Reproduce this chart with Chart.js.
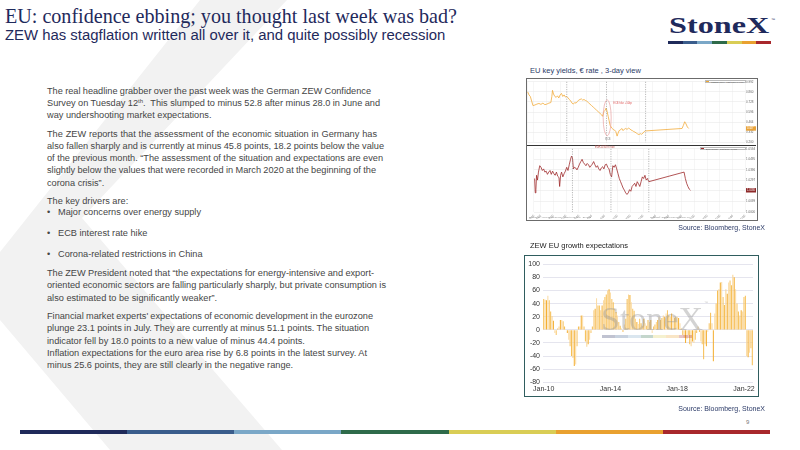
<!DOCTYPE html>
<html>
<head>
<meta charset="utf-8">
<script src="https://cdn.jsdelivr.net/npm/chart.js@4.4.1/dist/chart.umd.min.js"></script>
<style>
  html,body{margin:0;padding:0;background:#fff;}
  #page{position:relative;width:800px;height:450px;overflow:hidden;background:#fff;font-family:"Liberation Sans",Arial,sans-serif;}
  .abs{position:absolute;white-space:nowrap;}
  .ln{position:absolute;left:47px;white-space:nowrap;font-size:9.2px;line-height:12px;color:#454545;}
  .ln sup{font-size:6px;line-height:0;vertical-align:3px;}
  .bul{position:absolute;left:47px;font-size:9.2px;line-height:12px;color:#454545;}
</style>
</head>
<body>
<div id="page">
  <svg class="abs" style="left:0;top:0" width="800" height="450">
    <polygon points="200,0 287,0 82,218 282,450 110,450 0,320 0,252" fill="#f2f2f2"/>
  </svg>

  <!-- header -->
  <div class="abs" style="left:5px;top:6px;font-family:'Liberation Serif',serif;font-size:20.1px;line-height:20px;color:#1f2a5c;">EU: confidence ebbing; you thought last week was bad?</div>
  <div class="abs" style="left:5px;top:27px;font-size:14.9px;line-height:16px;color:#1f2a5c;">ZEW has stagflation written all over it, and quite possibly recession</div>

  <!-- logo -->
  <div class="abs" style="left:669px;top:14px;font-family:'Liberation Serif',serif;font-weight:bold;font-size:23px;line-height:24px;color:#1f2a5c;transform:scaleX(1.4);transform-origin:0 0;">StoneX</div>
  <div class="abs" style="left:771px;top:17px;font-size:4px;color:#1f2a5c;">™</div>
  <div id="logobar" class="abs" style="left:668px;top:41px;height:2.6px;width:103px;display:flex;"></div>

  <!-- body text -->
  <div class="ln" style="top:85px" data-r="371">The real headline grabber over the past week was the German ZEW Confidence</div>
  <div class="ln" style="top:97px" data-r="380">Survey on Tuesday 12<sup>th</sup>.&nbsp; This slumped to minus 52.8 after minus 28.0 in June and</div>
  <div class="ln" style="top:109px">way undershooting market expectations.</div>

  <div class="ln" style="top:128px" data-r="377">The ZEW reports that the assessment of the economic situation in Germany has</div>
  <div class="ln" style="top:140px" data-r="384">also fallen sharply and is currently at minus 45.8 points, 18.2 points below the value</div>
  <div class="ln" style="top:152px" data-r="383">of the previous month. “The assessment of the situation and expectations are even</div>
  <div class="ln" style="top:164px" data-r="376">slightly below the values that were recorded in March 2020 at the beginning of the</div>
  <div class="ln" style="top:177px">corona crisis”.</div>

  <div class="ln" style="top:195px">The key drivers are:</div>
  <div class="bul" style="top:206px">•</div><div class="ln" style="top:206px;left:58px">Major concerns over energy supply</div>
  <div class="bul" style="top:227px">•</div><div class="ln" style="top:227px;left:58px">ECB interest rate hike</div>
  <div class="bul" style="top:248px">•</div><div class="ln" style="top:248px;left:58px">Corona-related restrictions in China</div>

  <div class="ln" style="top:267px" data-r="374">The ZEW President noted that “the expectations for energy-intensive and export-</div>
  <div class="ln" style="top:279px" data-r="386">oriented economic sectors are falling particularly sharply, but private consumption is</div>
  <div class="ln" style="top:292px">also estimated to be significantly weaker”.</div>

  <div class="ln" style="top:310px" data-r="373">Financial market experts' expectations of economic development in the eurozone</div>
  <div class="ln" style="top:322px" data-r="369">plunge 23.1 points in July. They are currently at minus 51.1 points. The situation</div>
  <div class="ln" style="top:335px">indicator fell by 18.0 points to a new value of minus 44.4 points.</div>
  <div class="ln" style="top:347px" data-r="367">Inflation expectations for the euro area rise by 6.8 points in the latest survey. At</div>
  <div class="ln" style="top:359px">minus 25.6 points, they are still clearly in the negative range.</div>

  <!-- Bloomberg panel -->
  <div class="abs" style="left:530px;top:66px;font-size:7.5px;line-height:9px;color:#2b3a67;">EU key yields, € rate , 3-day view</div>
  <div class="abs" style="left:526px;top:78px;width:230px;height:141px;border:1px solid #6b6b6b;background:#fff;"></div>
  <canvas id="bbgTop" class="abs" style="left:527px;top:79px;width:229px;height:66px;"></canvas>
  <div class="abs" style="left:527px;top:145px;width:229px;height:1px;background:#333;"></div>
  <canvas id="bbgBot" class="abs" style="left:527px;top:146px;width:229px;height:73px;"></canvas>
  <div class="abs" style="left:705px;top:80px;width:41px;height:3px;border:0.5px solid #bbb;background:#fff;font-size:2.2px;line-height:3px;color:#666;padding-left:5px;box-sizing:border-box;">GDBR2 Index · Last Price 0.4470</div>
  <div class="abs" style="left:706px;top:80.8px;width:3px;height:1.5px;background:#f0a830;"></div>
  <div class="abs" style="left:700px;top:147px;width:46px;height:3px;border:0.5px solid #bbb;background:#fff;font-size:2.2px;line-height:3px;color:#666;padding-left:5px;box-sizing:border-box;">EUR Curncy · Last Price 1.0180</div>
  <div class="abs" style="left:701px;top:147.8px;width:3px;height:1.5px;background:#9e2a2b;"></div>
  <div class="abs" style="left:595px;top:146px;font-size:2.6px;color:#c0504d;">EUR-USD fx rate</div>
  <div class="abs" style="left:529px;top:216px;font-size:2.2px;color:#888;">Bloomberg ® Professional Service · Chart 3-day view · EU rates</div>
  <div class="abs" style="left:650px;top:216px;font-size:2.2px;color:#888;">Copyright© 2022 Bloomberg Finance L.P.</div>
  <div class="abs" style="right:35px;top:224px;font-size:7px;line-height:8px;color:#2b3a67;">Source: Bloomberg, StoneX</div>

  <!-- ZEW chart -->
  <div class="abs" style="left:530px;top:241px;font-size:7.5px;line-height:9px;color:#222;">ZEW EU growth expectations</div>
  <div class="abs" style="left:524px;top:255px;width:233px;height:140px;border:1.5px solid #2f5d5e;background:#fff;"></div>
  <canvas id="zew" class="abs" style="left:526px;top:257px;width:231px;height:138px;"></canvas>
  <div class="abs" style="left:601px;top:302px;font-family:'Liberation Serif',serif;font-size:34px;line-height:34px;color:rgba(150,150,150,0.42);">StoneX</div>
  <div class="abs" style="left:704px;top:301px;font-size:4px;line-height:4px;color:rgba(150,150,150,0.5);">™</div>
  <div id="wmbar" class="abs" style="left:602px;top:335px;height:3px;width:90px;display:flex;opacity:0.28;"></div>
  <div class="abs" style="right:35px;top:405px;font-size:7px;line-height:8px;color:#2b3a67;">Source: Bloomberg, StoneX</div>

  <!-- footer -->
  <div class="abs" style="left:746px;top:419px;font-size:6px;color:#777;">9</div>
  <div id="footbar" class="abs" style="left:20px;top:430px;height:4px;width:750px;display:flex;"></div>
</div>

<script>
// ---------- DATA ----------
const monthNames = ['Jan','Feb','Mar','Apr','May','Jun','Jul','Aug','Sep','Oct','Nov','Dec'];
const firstYear = 10; // 2010
const zewValues = [
  // 2010
  47, 46, 45, 52, 45, 28, 21, 14, -5, -8, 2, 5,
  // 2011
  15, 15, 13, 5, 0, -5, -15, -25, -40, -43, -55, -53,
  // 2012
  -25, 5, 5, 22, 22, 5, -18, -26, -22, -15, -5, 5,
  // 2013
  30, 32, 48, 37, 37, 30, 37, 45, 50, 54, 60, 62,
  // 2014
  57, 47, 42, 32, 27, 22, 12, 6, 2, -3, 8, 17,
  // 2015
  47, 54, 53, 42, 32, 29, 17, 12, 9, 17, 10, 6,
  // 2016
  17, 10, 6, 15, 12, 15, -5, 5, 8, 12, 15, 20,
  // 2017
  15, 18, 22, 20, 25, 30, 22, 20, 25, 20, 18, 20,
  // 2018
  20, 18, 10, 2, -8, -12, -20, -14, -8, -22, -25, -18,
  // 2019
  -20, -15, -5, 5, -3, -18, -22, -45, -22, -25, -3, 10,
  // 2020
  26, 10, -48, 25, 40, 60, 62, 72, 73, 50, 38, 62,
  // 2021
  55, 72, 75, 68, 84, 80, 62, 40, 28, 22, 30, 28,
  // 2022
  50, 52, -40, -42, -35, -28, -54
];
const zewTickLabels = ['Jan-10','Jan-14','Jan-18','Jan-22'];
const zewYTicks = {min: -80, max: 100, step: 20};

// Bloomberg 3-day view: [time index, level]
const yieldSeries = [[22,165],[26,155],[30,150],[34,135],[38,120],[44,122],[50,125],[56,127],[62,124],[68,128],[74,123],[80,125],[86,128],[92,130],[95,150],[97,170],[100,158],[104,150],[108,147],[112,152],[116,145],[120,155],[124,160],[128,150],[132,155],[136,148],[140,150],[144,145],[148,140],[152,135],[156,128],[160,125],[164,130],[168,128],[172,133],[176,138],[180,140],[184,142],[188,138],[192,140],[196,137],[200,135],[205,130],[210,125],[215,120],[220,115],[225,110],[230,105],[235,100],[240,95],[245,90],[248,85],[252,100],[256,105],[259,112],[262,100],[265,85],[268,70],[271,55],[274,50],[277,45],[280,42],[284,40],[288,35],[292,20],[295,30],[298,38],[302,40],[306,45],[310,38],[314,43],[318,45],[322,42],[326,46],[330,44],[334,40],[338,38],[342,35],[346,33],[350,30],[354,27],[358,25],[362,28],[366,26],[370,30],[374,35],[378,37],[488,45],[492,55],[496,67],[500,60],[504,50],[508,45]];
const fxSeries = [[22,105],[24,60],[26,70],[28,115],[31,100],[34,125],[38,145],[42,140],[46,130],[50,135],[54,125],[58,128],[62,118],[66,125],[70,130],[74,118],[78,128],[82,120],[86,115],[90,125],[94,112],[98,108],[100,80],[103,115],[106,125],[110,110],[114,120],[118,128],[122,140],[126,130],[130,148],[134,165],[137,175],[140,170],[143,135],[146,140],[150,138],[154,132],[158,140],[162,150],[166,158],[170,165],[174,155],[178,150],[182,145],[186,152],[190,148],[194,140],[198,145],[202,150],[206,158],[210,148],[214,140],[218,145],[222,135],[226,130],[230,138],[234,142],[238,135],[242,148],[246,150],[250,140],[254,135],[258,118],[262,110],[266,145],[270,140],[274,148],[278,135],[282,120],[286,105],[290,95],[294,85],[298,75],[302,68],[306,60],[310,55],[314,60],[318,70],[322,65],[326,80],[330,85],[334,90],[338,80],[342,95],[346,88],[350,80],[354,95],[358,110],[362,105],[366,115],[370,100],[374,105],[378,95],[488,125],[492,105],[496,90],[500,80],[504,72],[508,68]];
const sessionMarks = [140, 260, 378];
const bbgTimeLabels = ['12:00','00:00'];
const ecbMark = {t: 262, v: 80, label: 'ECB hike +50bp'};

// ---------- STYLE ----------
const stonexColors = ['#1f2a5a','#3a5d8c','#7aa7c7','#2e6b4a','#d9cd55','#e9a130','#a8282c'];
function fillBar(id){
  const el=document.getElementById(id);
  stonexColors.forEach(c=>{const d=document.createElement('div');d.style.flex='1';d.style.background=c;el.appendChild(d);});
}
fillBar('logobar'); fillBar('wmbar'); fillBar('footbar');

// fit text lines to their original right edges
document.querySelectorAll('.ln[data-r]').forEach(el=>{
  const target = parseFloat(el.dataset.r) - el.offsetLeft;
  const w = el.getBoundingClientRect().width;
  const spaces = (el.textContent.match(/[ \u00a0]/g)||[]).length;
  if (spaces>0){
    let ws = (target - w)/spaces;
    ws = Math.max(-1.2, Math.min(3, ws));
    el.style.wordSpacing = ws + 'px';
  }
});

Chart.defaults.font.family = '"Liberation Sans", Arial, sans-serif';
Chart.defaults.animation = false;

// ---------- ZEW bar chart ----------
const categories = zewValues.map((_, i) => monthNames[i % 12] + '-' + String(firstYear + Math.floor(i / 12)).padStart(2, '0'));
const barShades = ['#f6bf55','#f9d596','#f4b035','#fbdca6','#f7c669'];

new Chart(document.getElementById('zew'), {
  type: 'bar',
  data: {
    labels: categories,
    datasets: [{
      data: zewValues,
      backgroundColor: ctx => barShades[ctx.dataIndex % barShades.length],
      borderWidth: 0,
      barPercentage: 0.75,
      categoryPercentage: 1.0
    }]
  },
  options: {
    responsive: false,
    maintainAspectRatio: false,
    layout: {padding: {left: 0, right: 4, top: 6, bottom: 0}},
    plugins: {legend: {display: false}, tooltip: {enabled: false}},
    scales: {
      x: {
        grid: {display: false, drawTicks: false},
        border: {display: false},
        ticks: {
          autoSkip: false, maxRotation: 0, minRotation: 0, padding: 3,
          font: {size: 7}, color: '#333',
          callback: (v, i) => zewTickLabels.includes(categories[i]) ? categories[i] : ''
        },
        afterFit: s => { s.height = 12.7; }
      },
      y: {
        min: zewYTicks.min, max: zewYTicks.max,
        ticks: {stepSize: zewYTicks.step, font: {size: 7}, color: '#333', padding: 3},
        grid: {color: '#dedeea', lineWidth: 0.8, drawTicks: false},
        border: {display: false},
        afterFit: s => { s.width = 17; }
      }
    }
  }
});

// ---------- Bloomberg-style line panels ----------
const bbgDecor = {
  id: 'bbgDecor',
  afterDatasetsDraw(chart, args, opts) {
    const {ctx, chartArea, scales} = chart;
    ctx.save();
    ctx.setLineDash([1.2, 1.2]);
    ctx.strokeStyle = '#8c8c8c';
    ctx.lineWidth = 0.6;
    sessionMarks.forEach(t => {
      const x = scales.x.getPixelForValue(t);
      ctx.beginPath(); ctx.moveTo(x, chartArea.top); ctx.lineTo(x, chartArea.bottom); ctx.stroke();
    });
    ctx.setLineDash([]);
    if (opts.ellipse) {
      const e = opts.ellipse;
      const x = scales.x.getPixelForValue(e.t), y = scales.y.getPixelForValue(e.v);
      ctx.strokeStyle = '#e8a0a0'; ctx.lineWidth = 0.7;
      ctx.beginPath(); ctx.ellipse(x, y, 4, 18, 0, 0, Math.PI * 2); ctx.stroke();
      ctx.fillStyle = '#e06060'; ctx.font = '2.6px "Liberation Sans"';
      ctx.fillText(e.label, x + 6, y - 14);
      ctx.fillStyle = '#888';
      ctx.fillText('ECB', x - 2, y + 22);
    }
    const d = chart.data.datasets[0].data;
    const last = d[d.length - 1];
    const y = scales.y.getPixelForValue(last.y);
    ctx.fillStyle = opts.tag;
    ctx.fillRect(chartArea.right + 1, y - 2.2, 10, 4.4);
    ctx.fillStyle = '#fff'; ctx.font = '2.6px "Liberation Sans"';
    ctx.fillText(opts.tagText, chartArea.right + 2, y + 1);
    ctx.restore();
  }
};

function bbgChart(id, series, color, tag, tagText, showX, ellipse, yTickText) {
  return new Chart(document.getElementById(id), {
    type: 'scatter',
    data: {datasets: [{
      data: series.map(p => ({x: p[0], y: p[1]})),
      showLine: true, borderColor: color, borderWidth: 0.8, pointRadius: 0, tension: 0
    }]},
    options: {
      responsive: false, maintainAspectRatio: false,
      layout: {padding: {left: 0, right: 0, top: 1, bottom: 0}},
      plugins: {legend: {display: false}, tooltip: {enabled: false}, bbgDecor: {tag, tagText, ellipse}},
      scales: {
        x: {
          type: 'linear', min: 20, max: 678,
          grid: {color: '#ececec', lineWidth: 0.5, drawTicks: false},
          border: {display: false},
          ticks: {display: showX, stepSize: 40, font: {size: 3}, color: '#666', padding: 2,
            callback: (v, i) => bbgTimeLabels[i % 2]},
          afterFit: s => { s.height = showX ? 7 : 0; }
        },
        y: {
          position: 'right', min: 0, max: 198,
          grid: {color: '#e4e4e4', lineWidth: 0.5, drawTicks: false},
          border: {display: false},
          ticks: {stepSize: 33, font: {size: 3}, color: '#666', padding: 1,
            callback: v => yTickText(v)},
          afterFit: s => { s.width = 11; }
        }
      }
    },
    plugins: [bbgDecor]
  });
}
bbgChart('bbgTop', yieldSeries, '#f2ac3c', '#e9a33a', '0.447', false, ecbMark, v => (0.2 + v * 0.004).toFixed(3));
bbgChart('bbgBot', fxSeries, '#9e2a2b', '#8e2a2a', '1.0180', true, null, v => (1.0 + v * 0.0003).toFixed(4));
</script>
</body>
</html>
